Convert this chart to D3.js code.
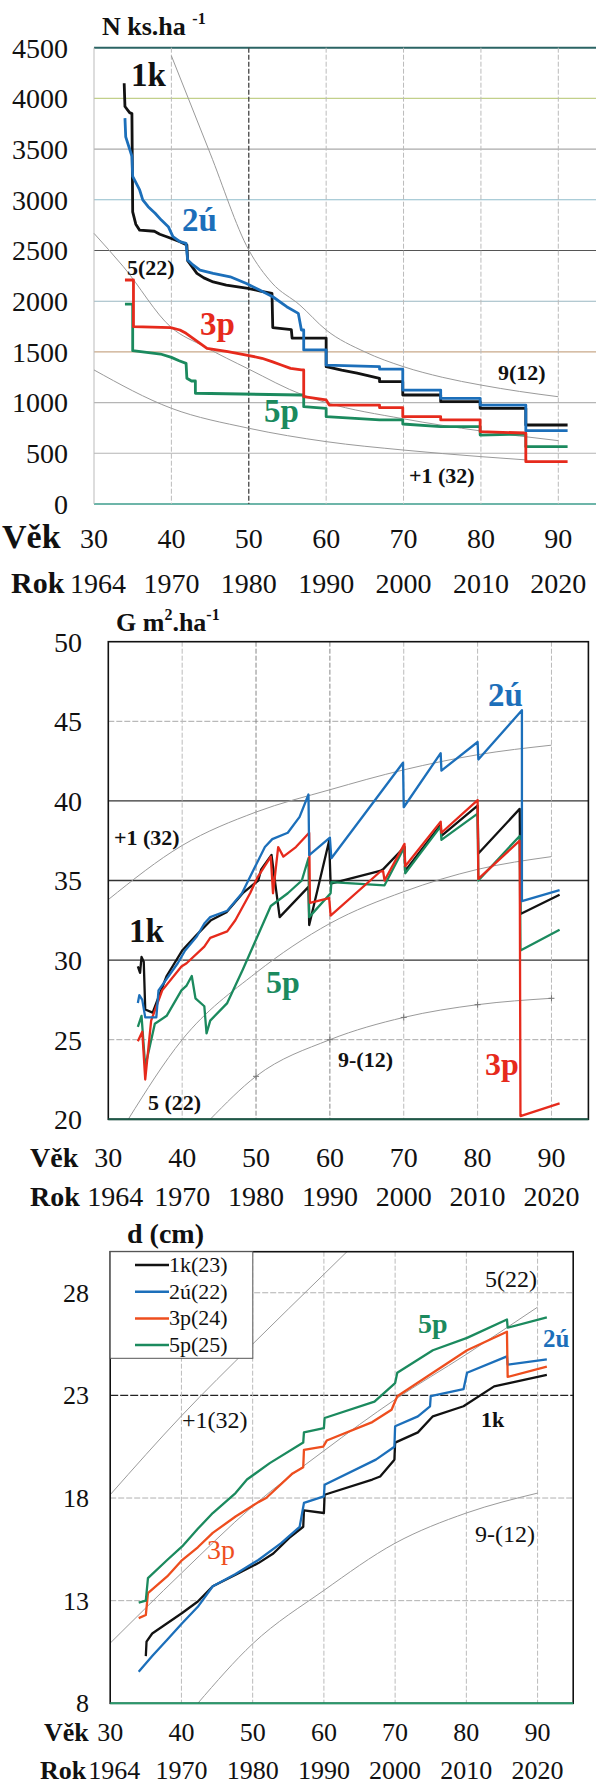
<!DOCTYPE html>
<html><head><meta charset="utf-8">
<script src="https://cdn.jsdelivr.net/npm/d3@7"></script>
<style>body{margin:0;background:#fff}</style>
</head><body><svg id="c" width="596" height="1786" font-family="'Liberation Serif', 'Times New Roman', Times, 'DejaVu Serif', serif"></svg>
<script>
// ---------- data ----------
const ageTicks = [30, 40, 50, 60, 70, 80, 90];
const rokLabels = ["1964", "1970", "1980", "1990", "2000", "2010", "2020"];
const nTicks = [0, 500, 1000, 1500, 2000, 2500, 3000, 3500, 4000, 4500];
const gTicks = [20, 25, 30, 35, 40, 45, 50];
const dTicks = [8, 13, 18, 23, 28];
const seriesNames = ["1k", "2ú", "3p", "5p"];
const legendLabels = ["1k(23)", "2ú(22)", "3p(24)", "5p(25)"];

// N (ks/ha) vs age
const N_1k = [[33.9,4150],[34.0,3920],[34.6,3860],[34.9,3850],[35.0,2880],[35.4,2760],[35.9,2700],[37.8,2690],[38.5,2660],[39.4,2636],[41.1,2587],[42.0,2555],[42.1,2400],[43.3,2275],[44.2,2230],[45.4,2190],[47.1,2159],[49.9,2127],[51.5,2100],[53.0,2078],[53.1,1740],[55.5,1720],[55.6,1635],[60.0,1635],[60.0,1354],[62.0,1320],[64.0,1290],[66.9,1240],[66.9,1206],[69.9,1206],[69.9,1075],[74.8,1075],[74.8,1009],[79.9,1009],[79.9,944],[85.8,944],[85.8,779],[91.2,779]];
const N_2u = [[34.0,3805],[34.1,3620],[34.9,3430],[35.0,3230],[35.9,3097],[36.3,3000],[37.0,2932],[37.9,2867],[38.7,2800],[39.6,2735],[40.2,2636],[41.1,2587],[41.9,2570],[42.1,2406],[42.8,2357],[43.7,2307],[45.4,2274],[47.6,2241],[49.7,2175],[51.4,2110],[53.1,2044],[54.9,1946],[56.4,1880],[56.8,1716],[57.1,1716],[57.1,1519],[60.0,1519],[60.0,1370],[66.9,1354],[66.9,1330],[69.9,1330],[69.9,1124],[74.8,1124],[74.8,1042],[79.9,1042],[79.9,976],[85.8,976],[85.8,723],[91.2,723]];
const N_3p = [[34.0,2209],[35.1,2209],[35.1,1749],[39.9,1740],[41.1,1716],[41.9,1683],[42.8,1634],[43.7,1584],[44.6,1535],[47.3,1502],[49.7,1469],[51.7,1437],[53.0,1404],[54.2,1371],[55.4,1338],[56.8,1322],[57.1,1322],[57.1,1058],[60.0,1026],[60.4,976],[66.9,976],[66.9,950],[69.9,950],[69.9,861],[74.8,861],[74.8,829],[79.9,829],[79.9,713],[85.8,700],[85.8,417],[91.2,417]];
const N_5p = [[34.0,1972],[35.0,1972],[35.0,1512],[38.6,1479],[40.0,1446],[41.0,1413],[41.9,1387],[42.0,1240],[42.6,1213],[43.1,1213],[43.1,1092],[56.6,1075],[57.1,1075],[57.1,960],[60.0,944],[60.0,861],[66.9,829],[69.9,829],[69.9,789],[74.8,763],[79.9,763],[79.9,680],[85.8,690],[85.8,565],[91.2,565]];
const N_ref9 = [[40,4420],[45,3460],[50,2505],[53,2180],[56.6,1962],[60,1716],[65,1500],[70,1354],[75,1250],[80,1173],[85,1110],[90,1058]];
const N_ref5 = [[30,2669],[33.8,2340],[40,1740],[44.3,1551],[50,1330],[57,1075],[60,1000],[70,840],[80,720],[90,625]];
const N_ref1 = [[30,1322],[40,944],[50,747],[60,615],[70,532],[80,467],[86,434]];

// G (m2/ha) vs age
const G_1k = [[34.0,29.6],[34.3,29.2],[34.5,30.2],[34.8,29.9],[35.0,26.9],[36.0,26.7],[37.9,29.0],[40.0,30.6],[42.0,31.6],[43.9,32.5],[46.0,33.0],[48.2,34.2],[50.3,35.0],[50.7,35.7],[52.1,36.6],[53.2,32.7],[57.1,34.6],[57.2,32.2],[59.9,37.5],[60.1,34.8],[66.8,35.6],[67.2,35.7],[70.1,37.1],[70.2,35.6],[75.0,38.5],[75.1,37.8],[80.0,39.7],[80.1,36.7],[85.7,39.5],[85.8,32.9],[91.1,34.1]];
const G_2u = [[34.0,27.3],[34.2,27.8],[34.6,27.5],[35.0,26.4],[36.5,26.4],[36.8,28.1],[39.4,29.8],[40.4,30.6],[42.0,31.5],[43.0,32.3],[43.8,32.7],[46.1,33.1],[48.1,34.2],[49.7,35.7],[51.2,37.1],[52.2,37.6],[54.3,38.0],[55.9,39.0],[57.1,40.4],[57.2,36.6],[60.0,37.7],[60.2,36.4],[69.9,42.4],[70.0,39.6],[75.0,43.0],[75.1,41.9],[80.0,43.7],[80.1,42.6],[86.0,45.7],[86.0,33.7],[91.1,34.4]];
const G_3p = [[34.0,24.9],[34.6,25.5],[35.0,22.5],[35.8,26.2],[37.3,28.1],[39.9,29.6],[40.6,29.8],[43.0,30.85],[43.8,31.4],[46.1,31.8],[47.2,32.5],[49.2,34.2],[50.2,35.2],[52.0,36.5],[52.3,34.2],[53.0,37.1],[53.7,36.5],[55.4,37.1],[57.2,38.0],[57.3,33.6],[59.9,33.9],[60.1,32.8],[66.8,35.55],[67.2,35.6],[67.4,35.0],[70.1,37.3],[70.2,35.9],[75.0,38.7],[75.1,38.0],[80.0,40.05],[80.1,35.1],[85.7,37.5],[85.8,20.2],[91.1,21.0]];
const G_5p = [[34.0,25.8],[34.5,26.5],[35.0,23.3],[36.3,26.0],[37.9,26.5],[39.9,28.1],[40.6,28.4],[41.3,29.0],[41.8,27.6],[43.0,27.1],[43.3,25.4],[43.8,26.2],[46.1,27.3],[48.2,29.4],[50.2,31.5],[52.0,33.4],[54.3,34.2],[56.2,35.0],[57.1,36.4],[57.2,32.7],[60.1,34.2],[60.2,34.9],[67.4,34.7],[70.1,37.1],[70.2,35.45],[75.0,38.4],[75.1,37.55],[80.0,39.2],[80.1,35.0],[85.7,37.8],[85.8,30.6],[91.1,31.9]];
const G_ref1 = [[30,33.8],[40,37.2],[50,39.3],[60,40.7],[70,41.95],[80,42.9],[90,43.5]];
const G_ref5 = [[32.7,20],[40,25.0],[50,29.2],[60,32.3],[70,34.3],[80,35.7],[90,36.5]];
const G_ref9 = [[43.8,20],[50,22.7],[60,25.0],[70,26.4],[80,27.2],[90,27.6]];

// d (cm) vs age
const D_1k = [[35.0,10.3],[35.1,11.0],[35.9,11.4],[38.0,11.9],[40.1,12.4],[42.3,12.96],[44.4,13.7],[47.6,14.26],[50.8,14.83],[52.9,15.3],[55.1,16.05],[57.1,16.6],[57.2,17.4],[60.0,17.27],[60.1,18.16],[66.8,18.9],[67.9,19.05],[69.9,19.87],[70.0,20.7],[73.2,21.2],[75.3,21.98],[79.6,22.47],[83.9,23.44],[86.0,23.6],[91.3,24.0]];
const D_2u = [[34.0,9.54],[35.9,10.3],[38.0,11.1],[40.1,11.9],[42.3,12.7],[44.4,13.7],[47.6,14.3],[50.8,14.98],[54.0,15.8],[56.6,16.6],[57.2,17.76],[60.0,18.08],[60.1,18.65],[67.3,19.87],[69.9,20.5],[70.0,21.5],[73.2,21.98],[74.9,22.47],[75.0,22.96],[79.6,23.3],[80.1,24.1],[85.7,24.9],[85.8,24.5],[91.3,24.75]];
const D_3p = [[34.0,12.15],[35.0,12.3],[35.3,13.37],[38.0,14.18],[40.1,14.98],[42.3,15.6],[44.4,16.3],[47.6,17.1],[50.8,17.8],[51.9,18.0],[55.6,19.2],[57.1,19.5],[57.2,20.35],[59.9,20.5],[60.4,20.8],[66.8,21.7],[69.5,22.3],[70.3,22.96],[75.3,24.1],[80.1,25.2],[85.7,26.1],[85.8,23.9],[91.3,24.4]];
const D_5p = [[34.0,12.9],[35.0,13.0],[35.3,14.1],[38.0,14.98],[40.1,15.64],[42.3,16.5],[44.4,17.27],[47.6,18.24],[49.2,18.9],[52.4,19.7],[57.1,20.7],[57.2,21.2],[60.0,21.4],[60.1,21.9],[67.1,22.7],[70.0,23.6],[70.3,24.1],[75.3,25.2],[80.1,25.8],[85.7,26.7],[85.8,26.3],[91.3,26.8]];
const D_ref1 = [[30,18.16],[40,22.0],[50,25.5],[60,28.9],[65,30.6]];
const D_ref5 = [[30,10.93],[40,14.34],[50,17.6],[60,20.3],[70,22.8],[80,25.0],[90,27.3]];
const D_ref9 = [[42.3,8],[50,10.9],[60,13.5],[70,15.8],[80,17.27],[90,18.24]];

// ---------- drawing ----------
const FONT = "'Liberation Serif', 'Times New Roman', Times, 'DejaVu Serif', serif";
const svg = d3.select("#c");
svg.append("rect").attr("width",596).attr("height",1786).attr("fill","#fff");
const COL = {"1k":"#121212","2ú":"#1c6fba","3p":"#e62a1c","5p":"#1b8a5e"};

function txt(g, x, y, s, size, opts={}) {
  return g.append("text").attr("x",x).attr("y",y).text(s)
    .attr("font-family",FONT)
    .attr("font-size",size).attr("font-weight",opts.bold?"bold":"normal")
    .attr("fill",opts.fill||"#111").attr("text-anchor",opts.anchor||"start");
}

function drawSeries(g, x, y, sets, width, colors) {
  const line = d3.line().x(d=>x(d[0])).y(d=>y(d[1]));
  sets.forEach(([name,data]) => {
    g.append("path").datum(data).attr("d",line).attr("fill","none")
      .attr("stroke",colors[name]).attr("stroke-width",width)
      .attr("stroke-linejoin","round");
  });
}
function drawRefs(g, x, y, refs) {
  const line = d3.line().x(d=>x(d[0])).y(d=>y(d[1])).curve(d3.curveMonotoneX);
  refs.forEach(r => g.append("path").datum(r).attr("d",line).attr("fill","none")
    .attr("stroke","#9a9a9a").attr("stroke-width",1));
}
function xLabels(g, x, yV, yR, sizeN, vSize, vX, rSize, rX, firstDx) {
  txt(g, vX, yV, "Věk", vSize, {bold:true});
  g.selectAll(null).data(ageTicks).join("text")
    .attr("font-family",FONT)
    .attr("x",d=>x(d)).attr("y",yV).attr("text-anchor","middle")
    .attr("font-size",sizeN).attr("fill","#111").text(d=>d);
  txt(g, rX, yR, "Rok", rSize, {bold:true});
  g.selectAll(null).data(ageTicks).join("text")
    .attr("font-family",FONT)
    .attr("x",(d,i)=>x(d)+(i===0?firstDx:0)).attr("y",yR).attr("text-anchor","middle")
    .attr("font-size",sizeN).attr("fill","#111").text((d,i)=>rokLabels[i]);
}
function yLabels(g, y, ticks, xr, size) {
  g.selectAll(null).data(ticks).join("text")
    .attr("font-family",FONT)
    .attr("x",xr).attr("y",d=>y(d)).attr("dy","0.35em").attr("text-anchor","end")
    .attr("font-size",size).attr("fill","#111").text(d=>d);
}

// ===== Panel 1: N =====
{
  const g = svg.append("g");
  const x = d3.scaleLinear([30,95],[94,597]);
  const y = d3.scaleLinear([0,4500],[504,47.7]);
  const hcol = {0:"#3d9c8c",500:"#b5b5b5",1000:"#b5b5b5",1500:"#c9a98a",2000:"#9ab7c2",2500:"#555",3000:"#8fbccb",3500:"#aaa",4000:"#c2d08a",4500:"#2b6464"};
  g.selectAll(null).data(nTicks).join("line")
    .attr("x1",x(30)).attr("x2",596).attr("y1",d=>y(d)).attr("y2",d=>y(d))
    .attr("stroke",d=>hcol[d]).attr("stroke-width",d=>d===4500?2:(d===0?1.6:1.1));
  g.selectAll(null).data(ageTicks).join("line")
    .attr("x1",d=>x(d)).attr("x2",d=>x(d)).attr("y1",y(4500)).attr("y2",y(0))
    .attr("stroke",d=>d===50?"#444":"#bbb").attr("stroke-width",d=>d===50?1.3:1)
    .attr("stroke-dasharray",d=>d===30?null:"5,2");
  drawRefs(g, x, y, [N_ref9, N_ref5, N_ref1]);
  drawSeries(g, x, y, [["5p",N_5p],["3p",N_3p],["1k",N_1k],["2ú",N_2u]], 2.8, COL);
  yLabels(g, y, nTicks, 68, 28);
  const t = txt(g, 102, 35, "N ks.ha ", 26, {bold:true});
  t.append("tspan").attr("font-size",16).attr("dy",-11).text("-1");
  txt(g,131,86,"1k",33,{bold:true});
  txt(g,182,231,"2ú",33,{bold:true,fill:COL["2ú"]});
  txt(g,127,275,"5(22)",22,{bold:true});
  txt(g,200,335,"3p",33,{bold:true,fill:COL["3p"]});
  txt(g,264,422,"5p",33,{bold:true,fill:COL["5p"]});
  txt(g,498,380,"9(12)",22,{bold:true});
  txt(g,409,483,"+1 (32)",22,{bold:true});
  xLabels(g, x, 548, 593, 28, 34, 2, 30, 11, 4);
}

// ===== Panel 2: G =====
{
  const g = svg.append("g");
  const x = d3.scaleLinear([30,95],[108.3,588.4]);
  const y = d3.scaleLinear([20,50],[1119.3,641.7]);
  g.selectAll(null).data([25,30,35,40,45]).join("line")
    .attr("x1",x(30)).attr("x2",x(95)).attr("y1",d=>y(d)).attr("y2",d=>y(d))
    .attr("stroke",d=>(d===25||d===45)?"#a8a8a8":"#333").attr("stroke-width",d=>(d===25||d===45)?1:1.3)
    .attr("stroke-dasharray",d=>(d===25||d===45)?"6,2":null);
  g.selectAll(null).data(ageTicks.slice(1)).join("line")
    .attr("x1",d=>x(d)).attr("x2",d=>x(d)).attr("y1",y(50)).attr("y2",y(20))
    .attr("stroke",d=>(d===50||d===60)?"#888":"#bbb").attr("stroke-width",1)
    .attr("stroke-dasharray","5,2");
  drawRefs(g, x, y, [G_ref1, G_ref5, G_ref9]);
  g.selectAll(null).data(G_ref9.filter(d=>d[0]>=50)).join("path")
    .attr("d",d=>`M${x(d[0])-3},${y(d[1])}h6M${x(d[0])},${y(d[1])-3}v6`)
    .attr("stroke","#777").attr("stroke-width",1);
  drawSeries(g, x, y, [["1k",G_1k],["5p",G_5p],["3p",G_3p],["2ú",G_2u]], 2.3, COL);
  g.append("rect").attr("x",x(30)).attr("y",y(50)).attr("width",x(95)-x(30)).attr("height",y(20)-y(50))
    .attr("fill","none").attr("stroke","#111").attr("stroke-width",1.6);
  g.append("line").attr("x1",x(30)).attr("x2",x(95)).attr("y1",y(20)).attr("y2",y(20))
    .attr("stroke","#1d5a48").attr("stroke-width",2);
  yLabels(g, y, gTicks, 82, 28);
  const t = txt(g, 116, 631, "G m", 26, {bold:true});
  t.append("tspan").attr("font-size",16).attr("dy",-11).text("2");
  t.append("tspan").attr("dy",11).text(".ha");
  t.append("tspan").attr("font-size",16).attr("dy",-11).text("-1");
  txt(g,114,845,"+1 (32)",22,{bold:true});
  txt(g,148,1110,"5 (22)",22,{bold:true});
  txt(g,338,1067,"9-(12)",22,{bold:true});
  txt(g,488,706,"2ú",33,{bold:true,fill:COL["2ú"]});
  txt(g,129,942,"1k",33,{bold:true});
  txt(g,266,993,"5p",32,{bold:true,fill:COL["5p"]});
  txt(g,485,1075,"3p",32,{bold:true,fill:COL["3p"]});
  xLabels(g, x, 1167, 1206, 28, 28, 30, 28, 30, 7);
}

// ===== Panel 3: d =====
{
  const g = svg.append("g");
  const x = d3.scaleLinear([30,95],[110.2,573.2]);
  const y = d3.scaleLinear([8,30],[1703.3,1251.7]);
  const COL3 = Object.assign({}, COL, {"3p":"#ee4e1e"});
  g.selectAll(null).data([13,18,23,28]).join("line")
    .attr("x1",x(30)).attr("x2",x(95)).attr("y1",d=>y(d)).attr("y2",d=>y(d))
    .attr("stroke",d=>d===23?"#222":"#b0b0b0").attr("stroke-width",d=>d===23?1.4:1)
    .attr("stroke-dasharray",d=>d===23?"8,2":"6,2");
  g.selectAll(null).data(ageTicks.slice(1)).join("line")
    .attr("x1",d=>x(d)).attr("x2",d=>x(d)).attr("y1",y(30)).attr("y2",y(8))
    .attr("stroke","#bbb").attr("stroke-width",1).attr("stroke-dasharray","5,2");
  g.append("clipPath").attr("id","clip3").append("rect")
    .attr("x",x(30)).attr("y",y(30)).attr("width",x(95)-x(30)).attr("height",y(8)-y(30));
  const gr = g.append("g").attr("clip-path","url(#clip3)");
  drawRefs(gr, x, y, [D_ref1, D_ref5, D_ref9]);
  drawSeries(gr, x, y, [["1k",D_1k],["2ú",D_2u],["3p",D_3p],["5p",D_5p]], 2.3, COL3);
  g.append("rect").attr("x",x(30)).attr("y",y(30)).attr("width",x(95)-x(30)).attr("height",y(8)-y(30))
    .attr("fill","none").attr("stroke","#111").attr("stroke-width",1.6);
  g.append("line").attr("x1",x(30)).attr("x2",x(95)).attr("y1",y(8)).attr("y2",y(8))
    .attr("stroke","#2a9a6c").attr("stroke-width",2);
  // legend
  const lg = g.append("g");
  lg.append("rect").attr("x",x(30)).attr("y",y(30)).attr("width",142.6).attr("height",106.6)
    .attr("fill","#fff").attr("stroke","#555").attr("stroke-width",1);
  seriesNames.forEach((s,i) => {
    const yy = 1265 + i*26.7;
    lg.append("line").attr("x1",135).attr("x2",169).attr("y1",yy).attr("y2",yy)
      .attr("stroke",COL3[s]).attr("stroke-width",2.5);
    txt(lg,169,yy+7,legendLabels[i],22);
  });
  yLabels(g, y, dTicks, 89, 26);
  txt(g,127,1243,"d (cm)",28,{bold:true});
  txt(g,485,1287,"5(22)",24);
  txt(g,182,1428,"+1(32)",24);
  txt(g,475,1542,"9-(12)",24);
  txt(g,418,1333,"5p",28,{bold:true,fill:COL["5p"]});
  txt(g,543,1347,"2ú",25,{bold:true,fill:COL["2ú"]});
  txt(g,481,1427,"1k",22,{bold:true});
  txt(g,207,1559,"3p",28,{fill:COL3["3p"]});
  xLabels(g, x, 1741, 1779, 26, 26, 44, 26, 40, 4);
}
</script></body></html>
